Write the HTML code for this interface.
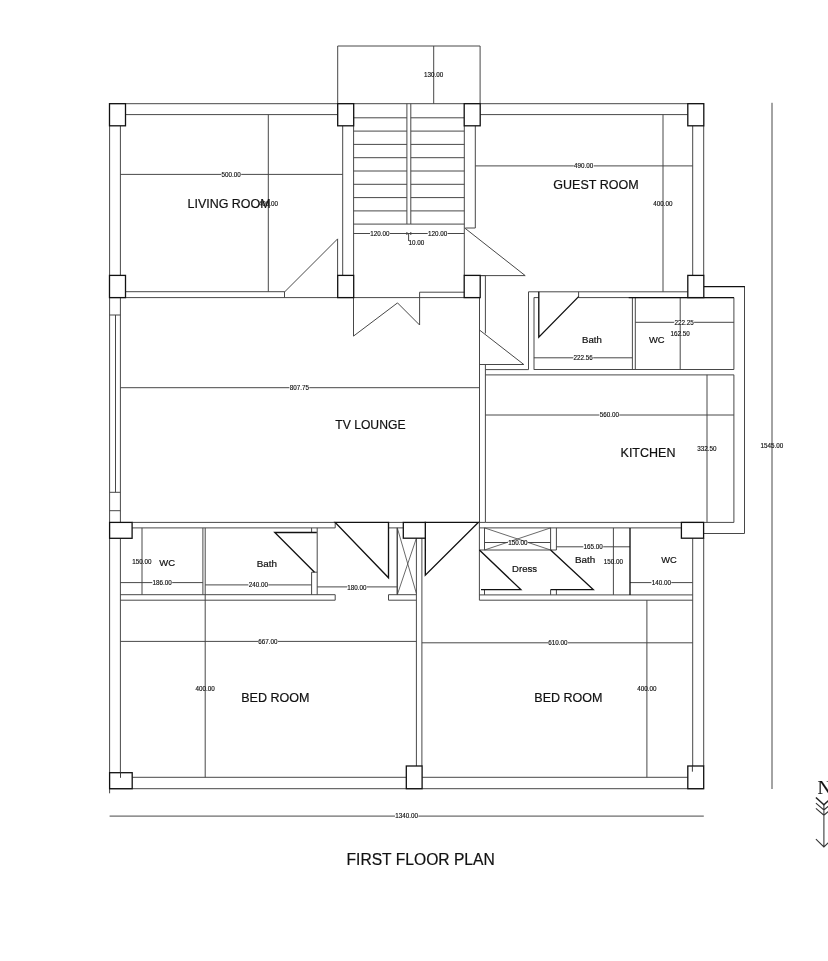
<!DOCTYPE html>
<html><head><meta charset="utf-8"><title>First Floor Plan</title>
<style>html,body{margin:0;padding:0;background:#fff}body{width:828px;height:961px;overflow:hidden}svg{display:block;will-change:transform}text{font-family:"Liberation Sans",sans-serif;fill:#111;stroke:#111;stroke-width:.2px}.d{font-size:6.3px;text-anchor:middle;stroke-width:.15px}.n{font-family:"Liberation Serif",serif;font-size:19.5px}</style></head>
<body>
<svg width="828" height="961" viewBox="0 0 828 961">
<path fill="none" stroke="#444" stroke-width="0.98" d="M337.7 103.7L337.7 46L480.1 46L480.1 103.7M433.7 46L433.7 103.7M109.5 103.7L703.7 103.7M125.5 114.6L337.7 114.6M480.2 114.6L687.8 114.6M109.6 125.8L109.6 275.4M120.4 125.8L120.4 275.4M125.5 291.7L284.5 291.7M284.5 291.7L284.5 297.6M109.6 297.6L479.6 297.6M342.7 125.8L342.7 275.4M353.6 125.8L353.6 275.4M120.4 174.4L342.7 174.4M268.3 114.6L268.3 291.7M337.6 275.4L337.6 238.9L284.5 292M353.6 117.8L406.9 117.8M410.8 117.8L464.3 117.8M353.6 131.1L406.9 131.1M410.8 131.1L464.3 131.1M353.6 144.4L406.9 144.4M410.8 144.4L464.3 144.4M353.6 157.7L406.9 157.7M410.8 157.7L464.3 157.7M353.6 171.0L406.9 171.0M410.8 171.0L464.3 171.0M353.6 184.3L406.9 184.3M410.8 184.3L464.3 184.3M353.6 197.6L406.9 197.6M410.8 197.6L464.3 197.6M353.6 210.9L406.9 210.9M410.8 210.9L464.3 210.9M353.6 224.1L406.9 224.1M410.8 224.1L464.3 224.1M406.9 103.7L406.9 224.1M410.8 103.7L410.8 224.1M406.9 224.1L410.8 224.1M464.3 125.8L464.3 275.4M475.3 125.8L475.3 228M465.3 228L475.3 228M353.6 233.5L464.3 233.5M406.9 232L406.9 235M410.8 232L410.8 235M408.6 233.5L408.6 241M475.3 165.9L692.7 165.9M663 114.6L663 291.8M692.7 125.8L692.7 275.4M703.7 125.8L703.7 275.4M464.7 228L525.2 275.6L464.7 275.6M485.4 275.6L485.4 333.5M479.6 275.6L485.4 275.6M528.5 291.8L687.8 291.8M744.5 286.6L744.5 533.5L703.6 533.5M528.5 291.8L528.5 369.6M534 297.6L534 369.6M533.9 297.6L538.8 297.6M578.6 297.6L733.9 297.6M578.6 291.8L578.6 297.6M632.4 297.6L632.4 369.5M635.3 297.6L635.3 369.5M635.3 322.3L733.9 322.3M680.2 297.6L680.2 369.5M533.9 357.8L632.4 357.8M533.9 369.5L733.9 369.5M733.9 297.6L733.9 369.5M353.5 297.6L353.5 336.1L397.5 302.9L419.6 325L419.6 292.2L464.2 292.2M479.5 297.6L479.5 522.4M485.4 364.5L485.4 522.4M479.6 330.1L523.8 364.5L479.6 364.5M485.4 369.6L528.5 369.6M485.4 374.9L733.9 374.9M733.9 374.8L733.9 522.4M485.4 522.4L733.9 522.4M707 374.8L707 522.4M485.4 415L733.9 415M120.4 387.7L479.5 387.7M109.6 297.6L109.6 522.4M120.4 297.6L120.4 522.4M115.5 315L115.5 492.3M109.6 315L120.4 315M109.6 492.3L120.4 492.3M109.6 510.7L120.4 510.7M132.1 522.4L335.2 522.4M132.1 527.9L335.2 527.9M335.2 522.4L335.2 527.9M388.5 522.4L403.3 522.4M388.5 527.9L403.3 527.9M478.3 522.4L485.4 522.4M397.1 527.9L397.1 594.7M397.4 527.9L397.4 594.7M416.4 538.2L416.4 766M421.9 538.2L421.9 766M109.6 538.3L109.6 793.3M120.4 538.3L120.4 777.3M142 527.9L142 594.7M202.9 527.9L202.9 594.7M205.2 527.9L205.2 777.3M120.4 582.6L202.9 582.6M205.2 584.9L311.6 584.9M311.6 527.9L311.6 532.5M317.2 527.9L317.2 594.7M311.6 572.2L311.6 594.7M311.6 572.2L317.2 572.2M317.2 586.9L397.1 586.9M120.4 594.7L335.2 594.7M120.4 600.2L335.2 600.2M335.2 594.7L335.2 600.2M388.5 594.7L416.2 594.7M388.5 600.2L416.2 600.2M388.5 594.7L388.5 600.2M120.4 641.4L416.4 641.4M421.9 642.8L692.7 642.8M132.2 777.3L406.3 777.3M422.1 777.3L687.8 777.3M109.6 788.7L703.7 788.7M646.9 600.2L646.9 777.3M692.7 538.2L692.7 766M703.7 538.2L703.7 766M479.4 527.9L681.4 527.9M479.4 522.4L479.4 600.2M484.5 527.9L484.5 550M550.6 527.9L550.6 550M556.4 527.9L556.4 550M479.4 550L556.4 550M484.5 542.5L550.6 542.5M484.5 589.6L484.5 594.9M550.6 589.6L550.6 594.9M556.4 589.6L556.4 594.9M479.4 594.9L692.7 594.9M479.4 600.2L692.7 600.2M556.4 546.8L630 546.8M613.4 527.9L613.4 594.9M630 582.6L692.7 582.6M109.6 816.1L703.8 816.1M772 102.8L772 789"/>
<path fill="none" stroke="#111" stroke-width="1.35" stroke-linejoin="miter" d="M703.7 286.6L744.9 286.6M628.7 297.6L733.9 297.6M538.8 291.8L538.8 337.2L578.6 296.6M335.2 522.4L388.5 522.4L388.5 577.8ZM425.3 538.2L425.3 522.4L478.3 522.4L425.3 575.2ZM316.8 532.5L274.8 532.5L314.5 572.2M479.4 550L520.8 589.6L481 589.6M550.6 550L593.2 589.6L550.6 589.6M630 527.9L630 594.9"/>
<path fill="none" stroke="#444" stroke-width="0.8" d="M397.3 527.9L416.4 593.5M416.4 538.2L397.3 594.7M484.5 527.9L550.6 550M550.6 527.9L484.5 550"/>
<path fill="none" stroke="#fff" stroke-width="2.6" d="M221.3 174.4h19.9M370.0 233.5h19.9M427.7 233.5h19.9M573.8 165.8h19.9M674.2 322.3h19.9M573.3 357.8h19.9M599.4 415h19.9M289.4 387.7h19.9M152.3 582.6h19.9M248.4 584.9h19.9M347.1 587.1h19.9M507.9 542.5h19.9M583.3 546.8h19.9M651.4 582.6h19.9M258.1 641.4h19.9M548.1 642.8h19.9M395.0 816h23.4"/>
<g fill="#fff" stroke="#111" stroke-width="1.3"><rect x="109.5" y="103.7" width="16.0" height="22.1"/><rect x="109.5" y="275.4" width="16.0" height="22.2"/><rect x="337.7" y="103.7" width="16.0" height="22.1"/><rect x="337.7" y="275.4" width="16.0" height="22.2"/><rect x="464.2" y="103.7" width="16.0" height="22.1"/><rect x="464.2" y="275.4" width="16.0" height="22.2"/><rect x="687.8" y="103.7" width="16.0" height="22.1"/><rect x="687.8" y="275.4" width="16.0" height="22.2"/><rect x="109.6" y="522.4" width="22.5" height="15.9"/><rect x="403.3" y="522.4" width="22.0" height="15.8"/><rect x="681.4" y="522.4" width="22.2" height="15.8"/><rect x="109.6" y="772.7" width="22.6" height="16.0"/><rect x="406.3" y="766.0" width="15.8" height="22.7"/><rect x="687.8" y="766.0" width="15.9" height="22.7"/></g>
<path fill="none" stroke="#2a2a2a" stroke-width="0.9" d="M120.5 772L120.5 777.8M692.4 766L692.4 771.7"/>
<path fill="none" stroke="#333" stroke-width="1.05" d="M823.9 804.7L823.9 846.9M815.9 803.2L823.9 810L831.9 803.2M815.9 808.4L823.9 815.2L831.9 808.4M815.9 839.1L823.9 846.9L831.9 839.1"/>
<path fill="none" stroke="#222" stroke-width="1.5" d="M815.9 797.5L823.9 804.7L831.9 797.5"/>
<text class="n" x="817.5" y="794.3">N</text>
<text class="d" x="433.7" y="77">130.00</text><text class="d" x="231.2" y="177">500.00</text><text class="d" x="268.3" y="206">400.00</text><text class="d" x="379.9" y="236">120.00</text><text class="d" x="437.6" y="236">120.00</text><text class="d" x="416.4" y="245">10.00</text><text class="d" x="583.7" y="168">490.00</text><text class="d" x="662.8" y="206">400.00</text><text class="d" x="684.1" y="325">222.25</text><text class="d" x="680.2" y="336">162.50</text><text class="d" x="583.2" y="360">222.56</text><text class="d" x="609.3" y="417">560.00</text><text class="d" x="707" y="451">332.50</text><text class="d" x="771.8" y="448">1545.00</text><text class="d" x="299.3" y="390">807.75</text><text class="d" x="142" y="564">150.00</text><text class="d" x="162.2" y="585">186.00</text><text class="d" x="258.3" y="587">240.00</text><text class="d" x="357" y="590">180.00</text><text class="d" x="517.8" y="545">150.00</text><text class="d" x="593.2" y="549">165.00</text><text class="d" x="613.4" y="564">150.00</text><text class="d" x="661.3" y="585">140.00</text><text class="d" x="268" y="644">667.00</text><text class="d" x="558" y="645">610.00</text><text class="d" x="205.2" y="691">400.00</text><text class="d" x="646.9" y="691">400.00</text><text class="d" x="406.7" y="818">1340.00</text>
<text x="187.58" y="208" font-size="12.8" textLength="83.04" lengthAdjust="spacingAndGlyphs">LIVING ROOM</text><text x="553.27" y="189" font-size="12.8" textLength="85.35" lengthAdjust="spacingAndGlyphs">GUEST ROOM</text><text x="335.23" y="429" font-size="12.8" textLength="70.30" lengthAdjust="spacingAndGlyphs">TV LOUNGE</text><text x="620.57" y="457" font-size="12.8" textLength="54.84" lengthAdjust="spacingAndGlyphs">KITCHEN</text><text x="241.17" y="702" font-size="12.8" textLength="68.36" lengthAdjust="spacingAndGlyphs">BED ROOM</text><text x="534.27" y="702" font-size="12.8" textLength="68.26" lengthAdjust="spacingAndGlyphs">BED ROOM</text><text x="346.52" y="865" font-size="16" textLength="148.25" lengthAdjust="spacingAndGlyphs">FIRST FLOOR PLAN</text><text x="582.11" y="343" font-size="9.2" textLength="19.71" lengthAdjust="spacingAndGlyphs">Bath</text><text x="648.96" y="343" font-size="9.2" textLength="15.60" lengthAdjust="spacingAndGlyphs">WC</text><text x="159.36" y="566" font-size="9.2" textLength="15.80" lengthAdjust="spacingAndGlyphs">WC</text><text x="256.69" y="567" font-size="9.2" textLength="20.25" lengthAdjust="spacingAndGlyphs">Bath</text><text x="512.12" y="572" font-size="9.2" textLength="24.93" lengthAdjust="spacingAndGlyphs">Dress</text><text x="574.99" y="563" font-size="9.2" textLength="20.25" lengthAdjust="spacingAndGlyphs">Bath</text><text x="661.26" y="563" font-size="9.2" textLength="15.50" lengthAdjust="spacingAndGlyphs">WC</text>
</svg>
</body></html>
